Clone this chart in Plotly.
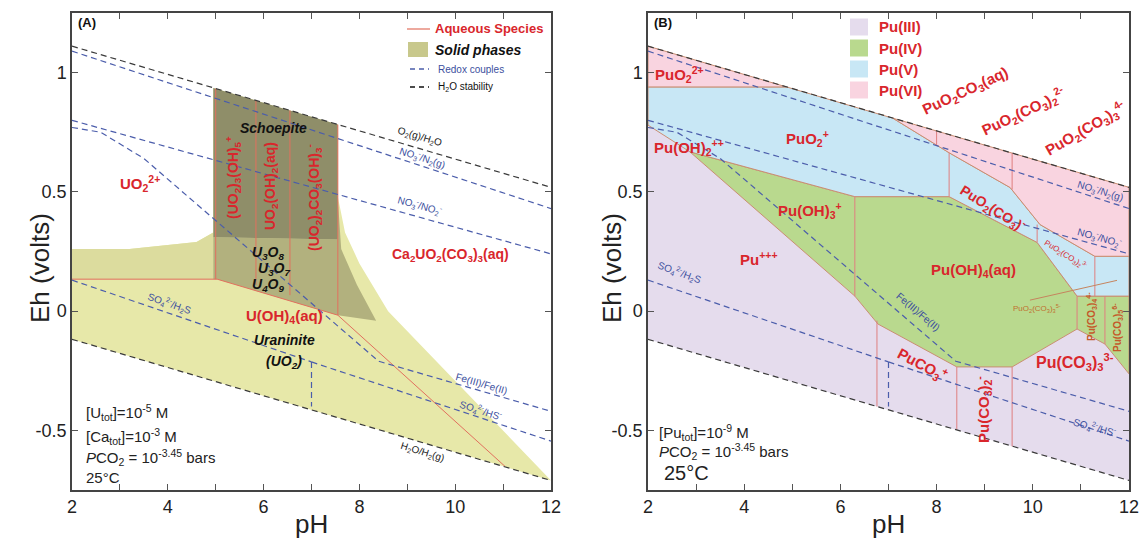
import plotly.graph_objects as go

W, H = 1141, 543
FONT = "Liberation Sans, Arial, Helvetica, sans-serif"
RED = "#d9262c"
AQ_LINE = "#e2705e"
BLUE_LINE = "#4b5dab"
BLUE_TEXT = "#3c4f9e"
BLACK_LINE = "#3a3a3a"
BORDER_B = "#c98d72"

# ---------------- axes ----------------
PH_RANGE = [2, 12]
EH_RANGE = [-0.75, 1.25]
X_TICKVALS = [2, 3, 4, 5, 6, 7, 8, 9, 10, 11, 12]
X_TICKTEXT = ["2", "", "4", "", "6", "", "8", "", "10", "", "12"]
Y_TICKVALS = [-0.5, 0, 0.5, 1]
Y_TICKTEXT = ["-0.5", "0", "0.5", "1"]

# ---------------- water stability & redox couples ----------------
O2_PH = [2, 12];      O2_EH = [1.111, 0.519]
H2_PH = [2, 12];      H2_EH = [-0.118, -0.710]
NO3N2_PH = [2, 12];   NO3N2_EH = [1.09, 0.43]
NO3NO2_PH = [2, 12];  NO3NO2_EH = [0.80, 0.24]
FE_PH = [2, 2.6, 3.5, 8.4, 12];  FE_EH = [0.77, 0.75, 0.64, -0.21, -0.42]
SO4H2S_PH = [2, 7];   SO4H2S_EH = [0.13, -0.213]
SO4HS_PH = [7, 12];   SO4HS_EH = [-0.213, -0.545]
H2SHS_PH = [7, 7];    H2SHS_EH = [-0.213, -0.40]

# ---------------- panel A: uranium solids ----------------
A_OUTER_PH = [2, 3.2, 4.6, 4.95, 4.95, 7.55, 7.55, 7.7, 8.0, 8.6, 12, 2]
A_OUTER_EH = [0.26, 0.26, 0.29, 0.33, 0.936, 0.782, 0.48, 0.33, 0.20, 0.0, -0.71, -0.118]
A_BAND_PH = [2, 3.2, 4.6, 4.95, 4.95, 2]
A_BAND_EH = [0.26, 0.26, 0.29, 0.33, 0.134, 0.134]
A_MED_PH = [4.95, 7.55, 7.55, 7.62, 7.95, 8.35, 7.55, 5.03, 4.95]
A_MED_EH = [0.31, 0.30, 0.47, 0.26, 0.11, -0.04, -0.017, 0.134, 0.134]
A_SCH_PH = [4.95, 7.55, 7.55, 4.95]
A_SCH_EH = [0.936, 0.782, 0.30, 0.31]

# aqueous boundaries (panel A)
A_AQH_PH = [2, 5.03];            A_AQH_EH = [0.134, 0.134]
A_AQD_PH = [5.03, 7.55, 11.04];  A_AQD_EH = [0.134, -0.017, -0.651]
A_VERT_PH = [5.0, 5.84, 6.55, 7.55]
A_VERT_TOP = [0.933, 0.883, 0.841, 0.782]
A_VERT_BOT = [0.134, 0.11, 0.067, -0.017]

# ---------------- panel B: plutonium ----------------
B_PU3_PH = [2, 2.87, 6.30, 6.78, 8.42, 9.57, 10.92, 11.50, 12, 12, 2]
B_PU3_EH = [0.78, 0.668, 0.063, -0.054, -0.234, -0.234, -0.075, -0.138, -0.263, -0.71, -0.118]
B_PU4_PH = [2.87, 6.30, 8.26, 10.09, 10.92, 12, 12, 11.50, 10.92, 9.57, 8.42, 6.78, 6.30]
B_PU4_EH = [0.668, 0.48, 0.48, 0.288, 0.063, 0.063, -0.263, -0.138, -0.075, -0.234, -0.234, -0.054, 0.063]
B_PU5_PH = [2, 4.88, 7.09, 8.26, 9.53, 10.15, 11.29, 12, 12, 10.92, 10.09, 8.26, 6.30, 2.87, 2]
B_PU5_EH = [0.94, 0.94, 0.809, 0.664, 0.518, 0.363, 0.23, 0.23, 0.063, 0.063, 0.288, 0.48, 0.48, 0.668, 0.78]
B_PU6A_PH = [2, 4.88, 2];  B_PU6A_EH = [1.111, 0.94, 0.94]
B_PU6B_PH = [7.09, 12, 12, 11.29, 10.15, 9.53, 8.26]
B_PU6B_EH = [0.809, 0.519, 0.23, 0.23, 0.363, 0.518, 0.664]

# internal vertical boundaries (panel B)
B_VERT_PH = [8.26, 10.09, 11.29, 6.30, 10.92, 11.50, 8.0, 9.57, 6.76, 8.42, 9.57]
B_VERT_TOP = [0.664, 0.363, 0.23, 0.48, 0.063, 0.063, 0.755, 0.662, -0.04, -0.234, -0.234]
B_VERT_BOT = [0.48, 0.288, 0.063, 0.063, -0.075, -0.138, 0.696, 0.51, -0.40, -0.497, -0.567]
B_LEADER_PH = [9.94, 11.75];  B_LEADER_EH = [0.046, 0.129]

COL_URAN = "#e7e8a9"
COL_BAND = "#dcdc9e"
COL_MED = "#b2b17e"
COL_SCH = "#8f8e69"
COL_PU3 = "#e5dced"
COL_PU4 = "#b9d98e"
COL_PU5 = "#c8e7f5"
COL_PU6 = "#f9d4e0"

fig = go.Figure()


def poly(xs, ys, fill, ax, line_color=None, lw=0):
    fig.add_trace(go.Scatter(
        x=list(xs) + [xs[0]], y=list(ys) + [ys[0]], fill="toself", fillcolor=fill,
        mode="lines", line=dict(color=line_color or fill, width=lw),
        hoverinfo="skip", showlegend=False, xaxis="x" + ax, yaxis="y" + ax))


def line(xs, ys, color, ax, width=1.2, dash=None):
    fig.add_trace(go.Scatter(
        x=xs, y=ys, mode="lines", line=dict(color=color, width=width, dash=dash),
        hoverinfo="skip", showlegend=False, xaxis="x" + ax, yaxis="y" + ax))


DASH = "6px,4px"

# ---------- panel A ----------
poly(A_OUTER_PH, A_OUTER_EH, COL_URAN, "")
poly(A_BAND_PH, A_BAND_EH, COL_BAND, "")
poly(A_MED_PH, A_MED_EH, COL_MED, "")
poly(A_SCH_PH, A_SCH_EH, COL_SCH, "")
line(A_AQH_PH, A_AQH_EH, AQ_LINE, "", 1)
line(A_AQD_PH, A_AQD_EH, AQ_LINE, "", 1)
for p, t, b in zip(A_VERT_PH, A_VERT_TOP, A_VERT_BOT):
    line([p, p], [t, b], AQ_LINE, "", 1)

# ---------- panel B ----------
poly(B_PU3_PH, B_PU3_EH, COL_PU3, "2")
poly(B_PU4_PH, B_PU4_EH, COL_PU4, "2", BORDER_B, 1)
poly(B_PU5_PH, B_PU5_EH, COL_PU5, "2", BORDER_B, 1)
poly(B_PU6A_PH, B_PU6A_EH, COL_PU6, "2", BORDER_B, 1)
poly(B_PU6B_PH, B_PU6B_EH, COL_PU6, "2", BORDER_B, 1)
for p, t, b in zip(B_VERT_PH, B_VERT_TOP, B_VERT_BOT):
    line([p, p], [t, b], "#df7f7f", "2", 1)
line(B_LEADER_PH, B_LEADER_EH, "#c6845e", "2", 1)

# ---------- dashed lines, both panels ----------
for ax in ["", "2"]:
    line(NO3N2_PH, NO3N2_EH, BLUE_LINE, ax, 1.2, DASH)
    line(NO3NO2_PH, NO3NO2_EH, BLUE_LINE, ax, 1.2, DASH)
    line(FE_PH, FE_EH, BLUE_LINE, ax, 1.2, DASH)
    line(SO4H2S_PH, SO4H2S_EH, BLUE_LINE, ax, 1.2, DASH)
    line(SO4HS_PH, SO4HS_EH, BLUE_LINE, ax, 1.2, DASH)
    line(H2SHS_PH, H2SHS_EH, BLUE_LINE, ax, 1.2, DASH)
    line(O2_PH, O2_EH, BLACK_LINE, ax, 1.2, DASH)
    line(H2_PH, H2_EH, BLACK_LINE, ax, 1.2, DASH)

# ---------- annotations (positions in pixels) ----------
ANN = []


def px(x):
    return x / W


def py(y):
    return 1 - y / H


def txt(text, x, y, size=14, color=RED, angle=0, xanchor="center", bold=False, italic=False):
    if bold:
        text = "<b>" + text + "</b>"
    if italic:
        text = "<i>" + text + "</i>"
    ANN.append(dict(text=text, x=px(x), y=py(y), xref="paper", yref="paper", showarrow=False,
                    xanchor=xanchor, yanchor="middle", textangle=angle,
                    font=dict(family=FONT, size=size, color=color)))


# panel letters
txt("(A)", 76, 22, 13, "#111", xanchor="left", bold=True)
txt("(B)", 652, 22, 13, "#111", xanchor="left", bold=True)

# panel A species
txt("UO<sub>2</sub><sup>2+</sup>", 140, 183, 15, bold=True)
txt("Ca<sub>2</sub>UO<sub>2</sub>(CO<sub>3</sub>)<sub>3</sub>(aq)", 450, 255, 14, bold=True)
txt("Schoepite", 273, 128, 14, "#111", bold=True, italic=True)
txt("(UO<sub>2</sub>)<sub>3</sub>(OH)<sub>5</sub><sup>+</sup>", 233, 178, 14, angle=-90, bold=True)
txt("UO<sub>2</sub>(OH)<sub>2</sub>(aq)", 271, 186, 14, angle=-90, bold=True)
txt("(UO<sub>2</sub>)<sub>2</sub>CO<sub>3</sub>(OH)<sub>3</sub><sup>-</sup>", 314, 197, 14, angle=-90, bold=True)
txt("U<sub>3</sub>O<sub>8</sub>", 268, 253, 14, "#111", bold=True, italic=True)
txt("U<sub>3</sub>O<sub>7</sub>", 274, 269, 14, "#111", bold=True, italic=True)
txt("U<sub>4</sub>O<sub>9</sub>", 268, 285, 14, "#111", bold=True, italic=True)
txt("U(OH)<sub>4</sub>(aq)", 284, 316, 15, bold=True)
txt("Uraninite", 284, 340, 14, "#111", bold=True, italic=True)
txt("(UO<sub>2</sub>)", 284, 362, 14, "#111", bold=True, italic=True)

# panel A redox labels
txt("O<sub>2</sub>(g)/H<sub>2</sub>O", 420, 137, 10, "#222", 16.5)
txt("NO<sub>3</sub><sup>-</sup>/N<sub>2</sub>(g)", 422, 157, 10, BLUE_TEXT, 18)
txt("NO<sub>3</sub><sup>-</sup>/NO<sub>2</sub><sup>-</sup>", 420, 206, 10, BLUE_TEXT, 15.6)
txt("SO<sub>4</sub><sup>2-</sup>/H<sub>2</sub>S", 170, 303, 10, BLUE_TEXT, 19)
txt("Fe(III)/Fe(II)", 481, 383, 10, BLUE_TEXT, 16)
txt("SO<sub>4</sub><sup>2-</sup>/HS<sup>-</sup>", 481, 410, 10, BLUE_TEXT, 18)
txt("H<sub>2</sub>O/H<sub>2</sub>(g)", 422, 452, 10, "#222", 17)

# panel A conditions
txt("[U<sub>tot</sub>]=10<sup>-5</sup> M", 84, 413, 15, "#222", xanchor="left")
txt("[Ca<sub>tot</sub>]=10<sup>-3</sup> M", 84, 436, 15, "#222", xanchor="left")
txt("<i>P</i>CO<sub>2</sub> = 10<sup>-3.45</sup> bars", 84, 457, 15, "#222", xanchor="left")
txt("25°C", 84, 477, 15, "#222", xanchor="left")

# panel A legend
txt("Aqueous Species", 433, 29, 13, RED, xanchor="left", bold=True)
txt("Solid phases", 433, 50, 14, "#111", xanchor="left", bold=True, italic=True)
txt("Redox couples", 436, 69, 10, BLUE_TEXT, xanchor="left")
txt("H<sub>2</sub>O stability", 436, 87, 10, "#111", xanchor="left")

# panel B species
txt("PuO<sub>2</sub><sup>2+</sup>", 679, 75, 15, bold=True)
txt("PuO<sub>2</sub><sup>+</sup>", 807, 138, 15, bold=True)
txt("Pu(OH)<sub>2</sub><sup>++</sup>", 689, 147, 15, bold=True)
txt("Pu(OH)<sub>3</sub><sup>+</sup>", 810, 210, 15, bold=True)
txt("Pu<sup>+++</sup>", 759, 258, 15, bold=True)
txt("Pu(OH)<sub>4</sub>(aq)", 973, 270, 15, bold=True)
txt("PuO<sub>2</sub>(CO<sub>3</sub>)<sup>-</sup>", 992, 208, 14, angle=32, bold=True)
txt("PuO<sub>2</sub>(CO<sub>3</sub>)<sub>2</sub><sup>3-</sup>", 1066, 254, 8, angle=32)
txt("PuO<sub>2</sub>(CO<sub>3</sub>)<sub>3</sub><sup>5-</sup>", 1037, 308, 8, "#c0702f")
txt("Pu(CO<sub>3</sub>)<sub>4</sub><sup>4-</sup>", 1091, 317, 10, "#c45a2a", -90, bold=True)
txt("Pu(CO<sub>3</sub>)<sub>5</sub><sup>6-</sup>", 1117, 328, 10, "#c45a2a", -90, bold=True)
txt("Pu(CO<sub>3</sub>)<sub>3</sub><sup>3-</sup>", 1075, 362, 16, bold=True)
txt("PuCO<sub>3</sub><sup>+</sup>", 923, 364, 15, angle=28, bold=True)
txt("Pu(CO<sub>3</sub>)<sub>2</sub><sup>-</sup>", 983, 410, 15, angle=-90, bold=True)
txt("PuO<sub>2</sub>CO<sub>3</sub>(aq)", 965, 91, 15, angle=-25, bold=True)
txt("PuO<sub>2</sub>(CO<sub>3</sub>)<sub>2</sub><sup>2-</sup>", 1023, 111, 15, angle=-25, bold=True)
txt("PuO<sub>2</sub>(CO<sub>3</sub>)<sub>3</sub><sup>4-</sup>", 1085, 128, 15, angle=-30, bold=True)

# panel B redox labels
txt("NO<sub>3</sub><sup>-</sup>/N<sub>2</sub>(g)", 1100, 190, 10, BLUE_TEXT, 17)
txt("NO<sub>3</sub><sup>-</sup>/NO<sub>2</sub><sup>-</sup>", 1100, 237, 10, BLUE_TEXT, 16)
txt("SO<sub>4</sub><sup>2-</sup>/H<sub>2</sub>S", 680, 272, 10, BLUE_TEXT, 20)
txt("Fe(III)/Fe(II)", 918, 311, 10, BLUE_TEXT, 40)
txt("SO<sub>4</sub><sup>2-</sup>/HS<sup>-</sup>", 1095, 427, 10, BLUE_TEXT, 15)

# panel B conditions
txt("[Pu<sub>tot</sub>]=10<sup>-9</sup> M", 657, 432, 15, "#222", xanchor="left")
txt("<i>P</i>CO<sub>2</sub> = 10<sup>-3.45</sup> bars", 657, 451, 15, "#222", xanchor="left")
txt("25°C", 662, 473, 20, "#222", xanchor="left")

# panel B legend
LEG_B = ["Pu(III)", "Pu(IV)", "Pu(V)", "Pu(VI)"]
LEG_B_COL = [COL_PU3, COL_PU4, COL_PU5, COL_PU6]
LEG_B_Y = [27, 48, 69, 90]
SHAPES = []
for name, col, yy in zip(LEG_B, LEG_B_COL, LEG_B_Y):
    SHAPES.append(dict(type="rect", xref="paper", yref="paper", x0=px(850), x1=px(868),
                       y0=py(yy + 8.5), y1=py(yy - 8.5), fillcolor=col, line=dict(width=0)))
    txt(name, 877, yy, 15, RED, xanchor="left", bold=True)

# panel A legend marks
SHAPES.append(dict(type="line", xref="paper", yref="paper", x0=px(407), x1=px(430),
                   y0=py(29), y1=py(29), line=dict(color=AQ_LINE, width=1.2)))
SHAPES.append(dict(type="rect", xref="paper", yref="paper", x0=px(408), x1=px(428),
                   y0=py(57), y1=py(42), fillcolor="#c8c88c", line=dict(width=0)))
SHAPES.append(dict(type="line", xref="paper", yref="paper", x0=px(410), x1=px(429),
                   y0=py(69), y1=py(69), line=dict(color=BLUE_LINE, width=1.3, dash="5px,4px")))
SHAPES.append(dict(type="line", xref="paper", yref="paper", x0=px(410), x1=px(429),
                   y0=py(87), y1=py(87), line=dict(color="#111", width=1.3, dash="5px,4px")))

# axis titles
for xc in [40, 612]:
    ANN.append(dict(text="Eh (volts)", x=px(xc), y=py(268), xref="paper", yref="paper", showarrow=False,
                    xanchor="center", yanchor="middle", textangle=-90,
                    font=dict(family=FONT, size=26, color="#222")))
for xc in [311, 888]:
    ANN.append(dict(text="pH", x=px(xc), y=py(524), xref="paper", yref="paper", showarrow=False,
                    xanchor="center", yanchor="middle",
                    font=dict(family=FONT, size=26, color="#222")))

axis_common = dict(showgrid=False, zeroline=False, showline=True, linecolor="#444", linewidth=1.5,
                   mirror="ticks", ticks="inside", ticklen=6, tickwidth=1, tickcolor="#555",
                   automargin=False,
                   tickfont=dict(family=FONT, size=18, color="#222"))
xa = dict(range=PH_RANGE, tickmode="array", tickvals=X_TICKVALS, ticktext=X_TICKTEXT, **axis_common)
ya = dict(range=EH_RANGE, tickmode="array", tickvals=Y_TICKVALS, ticktext=Y_TICKTEXT, **axis_common)

fig.update_layout(
    width=W, height=H, margin=dict(l=0, r=0, t=0, b=0, autoexpand=False),
    paper_bgcolor="white", plot_bgcolor="white", showlegend=False,
    xaxis=dict(domain=[72 / W, 551 / W], anchor="y", **xa),
    yaxis=dict(domain=[53 / H, 530 / H], anchor="x", **ya),
    xaxis2=dict(domain=[648 / W, 1129 / W], anchor="y2", **xa),
    yaxis2=dict(domain=[53 / H, 530 / H], anchor="x2", **ya),
    annotations=ANN, shapes=SHAPES,
)

fig.write_html("out.html", config={"displayModeBar": False},
               post_script="document.body.style.margin='0';document.body.style.overflow='hidden';")
